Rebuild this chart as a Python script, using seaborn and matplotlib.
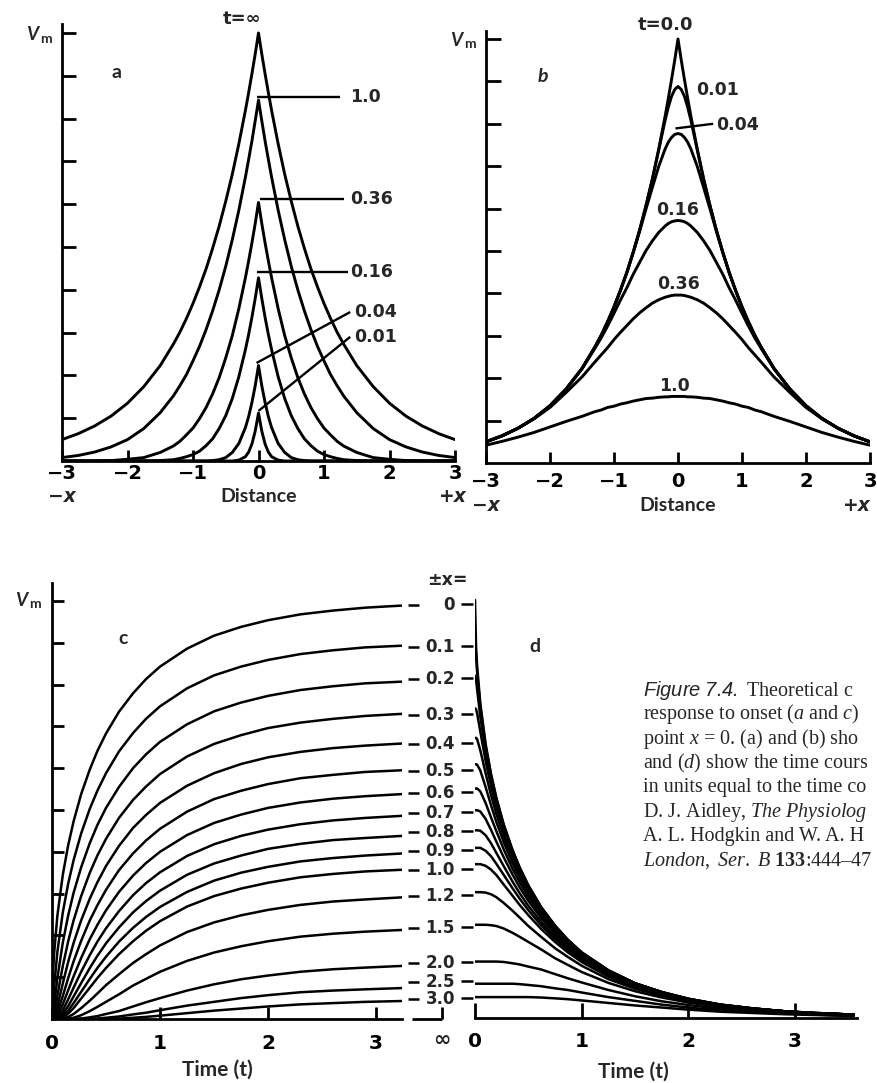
import matplotlib
matplotlib.use("Agg")
import matplotlib.pyplot as plt
import pandas as pd
import seaborn as sns

# ---------------- values ----------------
# (a) onset and (b) decay: V_m against distance. Only the x >= 0 half was read,
# the profiles are symmetric about x = 0 and get mirrored below.
dist_half = [0, 0.05, 0.1, 0.15, 0.2, 0.3, 0.4, 0.5, 0.6, 0.7, 0.8, 0.9, 1.0, 1.1, 1.2, 1.3,
             1.5, 1.75, 2.0, 2.25, 2.5, 2.75, 3.0]

onset_names = ["inf", "1.0", "0.36", "0.16", "0.04", "0.01"]
onset_inf = [10.0, 9.51, 9.05, 8.61, 8.19, 7.41, 6.70, 6.07, 5.49, 4.97, 4.49, 4.07, 3.68, 3.33, 3.01, 2.73,
             2.23, 1.74, 1.35, 1.05, 0.82, 0.64, 0.50]
onset_1_0 = [8.43, 7.95, 7.48, 7.05, 6.63, 5.86, 5.17, 4.55, 4.00, 3.51, 3.07, 2.68, 2.34, 2.02, 1.76, 1.52,
             1.13, 0.76, 0.50, 0.33, 0.21, 0.13, 0.08]
onset_0_36 = [6.04, 5.55, 5.10, 4.68, 4.28, 3.56, 2.93, 2.41, 1.95, 1.57, 1.25, 0.99, 0.77, 0.61, 0.46, 0.35,
              0.20, 0.08, 0.04, 0.01, 0.0, 0.0, 0.0]
onset_0_16 = [4.28, 3.80, 3.36, 2.96, 2.60, 1.97, 1.46, 1.06, 0.76, 0.52, 0.36, 0.23, 0.15, 0.10, 0.06, 0.03,
              0.01, 0.0, 0.0, 0.0, 0.0, 0.0, 0.0]
onset_0_04 = [2.23, 1.76, 1.37, 1.04, 0.78, 0.41, 0.20, 0.08, 0.03, 0.01, 0.0, 0.0, 0.0, 0.0, 0.0, 0.0,
              0.0, 0.0, 0.0, 0.0, 0.0, 0.0, 0.0]
onset_0_01 = [1.12, 0.70, 0.40, 0.21, 0.10, 0.02, 0.0, 0.0, 0.0, 0.0, 0.0, 0.0, 0.0, 0.0, 0.0, 0.0,
              0.0, 0.0, 0.0, 0.0, 0.0, 0.0, 0.0]

decay_names = ["0.0", "0.01", "0.04", "0.16", "0.36", "1.0"]
decay_0_0 = [10.0, 9.51, 9.05, 8.61, 8.19, 7.41, 6.70, 6.07, 5.49, 4.97, 4.49, 4.07, 3.68, 3.33, 3.01, 2.73,
             2.23, 1.74, 1.35, 1.05, 0.82, 0.64, 0.50]
decay_0_01 = [8.88, 8.81, 8.65, 8.40, 8.09, 7.39, 6.70, 6.07, 5.49, 4.97, 4.49, 4.07, 3.68, 3.33, 3.01, 2.73,
              2.23, 1.74, 1.35, 1.05, 0.82, 0.64, 0.50]
decay_0_04 = [7.77, 7.75, 7.68, 7.57, 7.41, 7.00, 6.50, 5.99, 5.46, 4.96, 4.49, 4.07, 3.68, 3.33, 3.01, 2.73,
              2.23, 1.74, 1.35, 1.05, 0.82, 0.64, 0.50]
decay_0_16 = [5.72, 5.71, 5.69, 5.65, 5.59, 5.44, 5.24, 5.01, 4.73, 4.45, 4.13, 3.84, 3.53, 3.23, 2.95, 2.70,
              2.22, 1.74, 1.35, 1.05, 0.82, 0.64, 0.50]
decay_0_36 = [3.96, 3.96, 3.95, 3.93, 3.91, 3.85, 3.77, 3.66, 3.54, 3.40, 3.24, 3.08, 2.91, 2.72, 2.55, 2.38,
              2.03, 1.66, 1.31, 1.04, 0.82, 0.64, 0.50]
decay_1_0 = [1.57, 1.57, 1.57, 1.56, 1.56, 1.55, 1.53, 1.52, 1.49, 1.46, 1.42, 1.39, 1.34, 1.31, 1.25, 1.21,
             1.10, 0.98, 0.85, 0.72, 0.61, 0.51, 0.42]

# (c) rise and (d) fall of V_m with time at distances +-x
pos_labels = ["0", "0.1", "0.2", "0.3", "0.4", "0.5", "0.6", "0.7", "0.8", "0.9", "1.0", "1.2", "1.5", "2.0", "2.5", "3.0"]
pos_label_v = [9.90, 8.90, 8.13, 7.27, 6.58, 5.93, 5.41, 4.93, 4.47, 4.02, 3.56, 2.94, 2.18, 1.34, 0.89, 0.48]

time_on = [0, 0.01, 0.02, 0.05, 0.1, 0.15, 0.2, 0.27, 0.35, 0.42, 0.5, 0.62, 0.75, 0.87, 1.0, 1.25, 1.5, 1.75,
           2.0, 2.3, 2.6, 2.9, 3.24]
rise_00 = [0, 1.12, 1.58, 2.48, 3.45, 4.16, 4.73, 5.38, 5.97, 6.41, 6.83, 7.35, 7.79, 8.13, 8.43, 8.86, 9.17, 9.38, 9.54, 9.68, 9.77, 9.84, 9.89]
rise_01 = [0, 0.40, 0.78, 1.61, 2.55, 3.24, 3.80, 4.44, 5.03, 5.46, 5.88, 6.40, 6.84, 7.18, 7.48, 7.91, 8.22, 8.43, 8.59, 8.73, 8.82, 8.89, 8.93]
rise_02 = [0, 0.10, 0.33, 0.98, 1.83, 2.48, 3.02, 3.63, 4.21, 4.64, 5.05, 5.55, 6.00, 6.33, 6.63, 7.05, 7.36, 7.57, 7.73, 7.87, 7.96, 8.03, 8.07]
rise_03 = [0, 0.02, 0.12, 0.56, 1.27, 1.86, 2.36, 2.94, 3.50, 3.91, 4.31, 4.81, 5.24, 5.56, 5.86, 6.28, 6.58, 6.79, 6.96, 7.09, 7.18, 7.25, 7.30]
rise_04 = [0, 0, 0.03, 0.30, 0.85, 1.37, 1.82, 2.36, 2.88, 3.27, 3.66, 4.14, 4.57, 4.88, 5.17, 5.58, 5.88, 6.10, 6.26, 6.39, 6.48, 6.54, 6.59]
rise_05 = [0, 0, 0.01, 0.15, 0.55, 0.98, 1.38, 1.87, 2.36, 2.72, 3.09, 3.56, 3.96, 4.27, 4.55, 4.96, 5.26, 5.46, 5.62, 5.76, 5.84, 5.91, 5.95]
rise_06 = [0, 0, 0, 0.07, 0.35, 0.69, 1.02, 1.46, 1.91, 2.25, 2.60, 3.04, 3.43, 3.73, 4.00, 4.40, 4.69, 4.89, 5.05, 5.18, 5.27, 5.33, 5.38]
rise_07 = [0, 0, 0, 0.03, 0.21, 0.47, 0.75, 1.13, 1.53, 1.85, 2.17, 2.58, 2.96, 3.25, 3.51, 3.90, 4.18, 4.38, 4.53, 4.66, 4.75, 4.81, 4.86]
rise_08 = [0, 0, 0, 0.01, 0.12, 0.31, 0.54, 0.86, 1.22, 1.51, 1.81, 2.19, 2.55, 2.82, 3.07, 3.45, 3.72, 3.91, 4.07, 4.19, 4.28, 4.33, 4.38]
rise_09 = [0, 0, 0, 0, 0.07, 0.20, 0.38, 0.65, 0.96, 1.22, 1.49, 1.85, 2.18, 2.44, 2.68, 3.04, 3.31, 3.50, 3.64, 3.77, 3.85, 3.91, 3.96]
rise_10 = [0, 0, 0, 0, 0.04, 0.13, 0.26, 0.49, 0.75, 0.98, 1.22, 1.55, 1.86, 2.11, 2.34, 2.69, 2.94, 3.12, 3.26, 3.39, 3.47, 3.53, 3.57]
rise_12 = [0, 0, 0, 0, 0.01, 0.05, 0.12, 0.26, 0.44, 0.61, 0.81, 1.07, 1.34, 1.55, 1.76, 2.08, 2.31, 2.48, 2.61, 2.73, 2.81, 2.86, 2.91]
rise_15 = [0, 0, 0, 0, 0, 0.01, 0.03, 0.09, 0.19, 0.29, 0.41, 0.59, 0.80, 0.96, 1.13, 1.39, 1.59, 1.74, 1.86, 1.97, 2.04, 2.09, 2.13]
rise_20 = [0, 0, 0, 0, 0, 0, 0, 0.01, 0.04, 0.07, 0.12, 0.19, 0.30, 0.40, 0.50, 0.68, 0.83, 0.95, 1.04, 1.13, 1.19, 1.23, 1.27]
rise_25 = [0, 0, 0, 0, 0, 0, 0, 0, 0, 0.01, 0.03, 0.06, 0.11, 0.15, 0.21, 0.32, 0.41, 0.50, 0.57, 0.64, 0.68, 0.71, 0.74]
rise_30 = [0, 0, 0, 0, 0, 0, 0, 0, 0, 0, 0, 0.01, 0.03, 0.05, 0.08, 0.14, 0.20, 0.25, 0.30, 0.35, 0.38, 0.41, 0.43]

time_off = [0, 0.01, 0.02, 0.05, 0.1, 0.15, 0.2, 0.27, 0.35, 0.42, 0.5, 0.62, 0.75, 0.87, 1.0, 1.25, 1.5, 1.75,
            2.0, 2.3, 2.6, 2.9, 3.2, 3.55]
fall_00 = [10.0, 8.88, 8.42, 7.52, 6.55, 5.84, 5.27, 4.62, 4.03, 3.59, 3.17, 2.65, 2.21, 1.87, 1.57, 1.14, 0.83, 0.62, 0.46, 0.32, 0.23, 0.16, 0.11, 0.08]
fall_01 = [9.05, 8.65, 8.27, 7.44, 6.50, 5.81, 5.25, 4.61, 4.02, 3.59, 3.17, 2.65, 2.21, 1.87, 1.57, 1.14, 0.83, 0.62, 0.46, 0.32, 0.23, 0.16, 0.12, 0.08]
fall_02 = [8.19, 8.09, 7.86, 7.21, 6.36, 5.71, 5.17, 4.56, 3.98, 3.55, 3.14, 2.64, 2.19, 1.86, 1.56, 1.14, 0.83, 0.62, 0.46, 0.32, 0.23, 0.16, 0.12, 0.08]
fall_03 = [7.41, 7.39, 7.29, 6.85, 6.14, 5.55, 5.05, 4.47, 3.91, 3.50, 3.10, 2.60, 2.17, 1.85, 1.55, 1.13, 0.83, 0.62, 0.45, 0.32, 0.23, 0.16, 0.11, 0.08]
fall_04 = [6.70, 6.70, 6.67, 6.40, 5.85, 5.33, 4.88, 4.34, 3.82, 3.43, 3.04, 2.56, 2.13, 1.82, 1.53, 1.12, 0.82, 0.60, 0.44, 0.31, 0.22, 0.16, 0.11, 0.08]
fall_05 = [6.07, 6.07, 6.06, 5.92, 5.52, 5.09, 4.69, 4.20, 3.71, 3.35, 2.98, 2.51, 2.11, 1.80, 1.52, 1.11, 0.81, 0.61, 0.45, 0.31, 0.23, 0.16, 0.12, 0.08]
fall_06 = [5.49, 5.49, 5.49, 5.42, 5.14, 4.80, 4.47, 4.03, 3.58, 3.24, 2.89, 2.45, 2.06, 1.76, 1.49, 1.09, 0.80, 0.60, 0.44, 0.31, 0.22, 0.16, 0.11, 0.08]
fall_07 = [4.97, 4.97, 4.97, 4.94, 4.76, 4.50, 4.22, 3.84, 3.44, 3.12, 2.80, 2.39, 2.01, 1.72, 1.46, 1.07, 0.79, 0.59, 0.44, 0.31, 0.22, 0.16, 0.11, 0.08]
fall_08 = [4.49, 4.49, 4.49, 4.48, 4.37, 4.18, 3.95, 3.63, 3.27, 2.98, 2.68, 2.30, 1.94, 1.67, 1.42, 1.04, 0.77, 0.58, 0.42, 0.30, 0.21, 0.16, 0.11, 0.08]
fall_09 = [4.07, 4.07, 4.07, 4.07, 4.00, 3.87, 3.69, 3.42, 3.11, 2.85, 2.58, 2.22, 1.89, 1.63, 1.39, 1.03, 0.76, 0.57, 0.43, 0.30, 0.22, 0.16, 0.11, 0.08]
fall_10 = [3.68, 3.68, 3.68, 3.68, 3.64, 3.55, 3.42, 3.19, 2.93, 2.70, 2.46, 2.13, 1.82, 1.57, 1.34, 0.99, 0.74, 0.56, 0.42, 0.29, 0.21, 0.15, 0.11, 0.08]
fall_12 = [3.01, 3.01, 3.01, 3.01, 3.00, 2.96, 2.89, 2.75, 2.57, 2.40, 2.20, 1.94, 1.67, 1.46, 1.25, 0.93, 0.70, 0.53, 0.40, 0.28, 0.20, 0.15, 0.10, 0.07]
fall_15 = [2.23, 2.23, 2.23, 2.23, 2.23, 2.22, 2.20, 2.14, 2.04, 1.94, 1.82, 1.64, 1.43, 1.27, 1.10, 0.84, 0.64, 0.49, 0.37, 0.26, 0.19, 0.14, 0.10, 0.07]
fall_20 = [1.35, 1.35, 1.35, 1.35, 1.35, 1.35, 1.35, 1.34, 1.31, 1.28, 1.23, 1.16, 1.05, 0.95, 0.85, 0.67, 0.52, 0.40, 0.31, 0.22, 0.16, 0.12, 0.08, 0.06]
fall_25 = [0.82, 0.82, 0.82, 0.82, 0.82, 0.82, 0.82, 0.82, 0.82, 0.81, 0.79, 0.76, 0.71, 0.67, 0.61, 0.50, 0.41, 0.32, 0.25, 0.18, 0.14, 0.11, 0.08, 0.05]
fall_30 = [0.50, 0.50, 0.50, 0.50, 0.50, 0.50, 0.50, 0.50, 0.50, 0.50, 0.50, 0.49, 0.47, 0.45, 0.42, 0.36, 0.30, 0.25, 0.20, 0.15, 0.12, 0.09, 0.07, 0.05]

# caption as far as the scan shows it (cut by the right edge)
caption_lines = [
    r"$\mathsf{Figure\ 7.4.}$ Theoretical c",
    r"response to onset ($a$ and $c$)",
    r"point $x$ = 0. (a) and (b) sho",
    r"and ($d$) show the time cours",
    r"in units equal to the time co",
    r"D. J. Aidley, $\mathit{The}$ $\mathit{Physiolog}$",
    r"A. L. Hodgkin and W. A. H",
    r"$\mathit{London,}$ $\mathit{Ser.}$ $\mathit{B}$ $\mathbf{133}$:444–47",
]

# ---------------- style ----------------
sns.set_theme(style="ticks")
plt.rcParams["font.family"] = ["DejaVu Sans"]
plt.rcParams.update({
    "mathtext.fontset": "custom",
    "mathtext.rm": "Liberation Serif",
    "mathtext.it": "Liberation Serif:italic",
    "mathtext.bf": "Liberation Serif:bold",
    "mathtext.sf": "Liberation Sans:italic",
})
WORDS = ["Lato", "DejaVu Sans"]
NUMS = ["DejaVu Sans"]
SERIF = ["Liberation Serif", "DejaVu Serif"]

W, H = 877, 1083
fig = plt.figure(figsize=(W / 100, H / 100), dpi=100)
fig.patch.set_facecolor("white")


def axes_px(left, right, base, top):
    return fig.add_axes([left / W, 1 - base / H, (right - left) / W, (base - top) / H])


def text_px(x, y, s, **kw):
    kw.setdefault("ha", "center")
    kw.setdefault("va", "center")
    fig.text(x / W, 1 - y / H, s, **kw)


def mirror(vals):
    return list(vals[::-1]) + list(vals[1:])


def long_frame(xvals, series, names):
    parts = [pd.DataFrame({"x": xvals, "v": vals, "curve": name}) for name, vals in zip(names, series)]
    return pd.concat(parts, ignore_index=True)


def frame_axes(ax, xlim, ylim, xticks, xlabels, ylen, xlen, pad, left=True, tick_fs=14.5):
    ax.set_xlim(*xlim)
    ax.set_ylim(*ylim)
    ax.set_xlabel("")
    ax.set_ylabel("")
    ax.set_facecolor("none")
    sns.despine(ax=ax, left=not left)
    for side in ("left", "bottom"):
        ax.spines[side].set_linewidth(2.0)
        ax.spines[side].set_color("black")
    ax.set_xticks(xticks)
    ax.set_xticklabels(xlabels, fontsize=tick_fs, fontweight="bold", family=NUMS)
    ax.tick_params(axis="x", direction="in", length=xlen, width=2, pad=pad, colors="black")
    if left:
        ax.set_yticks(range(1, 11))
        ax.tick_params(axis="y", direction="in", length=ylen, width=2, labelleft=False, colors="black")
    else:
        ax.set_yticks([])


def curves(ax, df, lw):
    sns.lineplot(data=df, x="x", y="v", units="curve", estimator=None, color="black",
                 linewidth=lw, legend=False, ax=ax)


line_kw = dict(color="black", solid_capstyle="butt", clip_on=False)
num_kw = dict(fontweight="bold", family=NUMS)
dist_full = [-d for d in dist_half[::-1]] + dist_half[1:]
dist_ticks = [-3, -2, -1, 0, 1, 2, 3]
dist_ticklabels = ["−3", "−2", "−1", "0", "1", "2", "3"]

# ---------------- (a) onset along the cable ----------------
ax_a = axes_px(62, 455, 461, 24.4)
onset = [onset_inf, onset_1_0, onset_0_36, onset_0_16, onset_0_04, onset_0_01]
curves(ax_a, long_frame(dist_full, [mirror(s) for s in onset], onset_names), 2.1)
frame_axes(ax_a, (-3, 3), (0, 10.2), dist_ticks, dist_ticklabels, 10, 8, 2, tick_fs=14)

for x0, y0, x1, y1, lab, tx in [(-0.03, 8.50, 1.24, 8.50, "1.0", 1.40),
                                (0.02, 6.12, 1.30, 6.12, "0.36", 1.40),
                                (-0.03, 4.42, 1.37, 4.42, "0.16", 1.40),
                                (-0.03, 2.29, 1.40, 3.48, "0.04", 1.46),
                                (0.0, 1.17, 1.40, 2.90, "0.01", 1.46)]:
    ax_a.plot([x0, x1], [y0, y1], lw=1.7, **line_kw)
    ax_a.text(tx, y1, lab, ha="left", va="center", fontsize=12.5, **num_kw)
ax_a.text(-3, -0.82, "−x", ha="center", va="center", fontsize=13.5, style="italic", clip_on=False, **num_kw)
ax_a.text(0, -0.82, "Distance", ha="center", va="center", fontsize=14, fontweight="bold", family=WORDS, clip_on=False)
ax_a.text(2.95, -0.82, "+x", ha="center", va="center", fontsize=13.5, style="italic", clip_on=False, **num_kw)

# ---------------- (b) decay along the cable ----------------
ax_b = axes_px(486, 870, 463, 30.5)
decay = [decay_0_0, decay_0_01, decay_0_04, decay_0_16, decay_0_36, decay_1_0]
curves(ax_b, long_frame(dist_full, [mirror(s) for s in decay], decay_names), 2.1)
frame_axes(ax_b, (-3, 3), (0, 10.2), dist_ticks, dist_ticklabels, 10.5, 8, 6.5, tick_fs=14)

ax_b.text(0.29, 8.80, "0.01", ha="left", va="center", fontsize=12.5, **num_kw)
ax_b.plot([-0.04, 0.55], [7.89, 8.0], lw=1.7, **line_kw)
ax_b.text(0.60, 7.97, "0.04", ha="left", va="center", fontsize=12.5, **num_kw)
ax_b.text(0.0, 5.97, "0.16", ha="center", va="center", fontsize=12.5, **num_kw)
ax_b.text(0.0, 4.22, "0.36", ha="center", va="center", fontsize=12.5, **num_kw)
ax_b.text(-0.05, 1.82, "1.0", ha="center", va="center", fontsize=12.5, **num_kw)
ax_b.text(-3, -1.0, "−x", ha="center", va="center", fontsize=13.5, style="italic", clip_on=False, **num_kw)
ax_b.text(0, -1.0, "Distance", ha="center", va="center", fontsize=14, fontweight="bold", family=WORDS, clip_on=False)
ax_b.text(3.0, -1.0, "+x", ha="right", va="center", fontsize=13.5, style="italic", clip_on=False, **num_kw)

# ---------------- (c) rise with time ----------------
ax_c = axes_px(52, 402, 1019, 583)
rise = [rise_00, rise_01, rise_02, rise_03, rise_04, rise_05, rise_06, rise_07,
        rise_08, rise_09, rise_10, rise_12, rise_15, rise_20, rise_25, rise_30]
curves(ax_c, long_frame(time_on, rise, pos_labels), 1.8)
frame_axes(ax_c, (0, 3.24), (0, 10.43), [0, 1, 2, 3], ["0", "1", "2", "3"], 8.5, 8.5, 11)
ax_c.plot([3.33, 3.61], [0, 0], lw=2.0, **line_kw)
ax_c.plot([3.61, 3.61], [0, 0.28], lw=2.0, **line_kw)
ax_c.text(3.61, -0.50, "∞", ha="center", va="center", fontsize=15, clip_on=False, **num_kw)
ax_c.text(1.53, -1.22, "Time (t)", ha="center", va="center", fontsize=15, fontweight="bold", family=WORDS, clip_on=False)

# ---------------- (d) fall with time ----------------
ax_d = axes_px(475, 857, 1018, 582)
fall = [fall_00, fall_01, fall_02, fall_03, fall_04, fall_05, fall_06, fall_07,
        fall_08, fall_09, fall_10, fall_12, fall_15, fall_20, fall_25, fall_30]
curves(ax_d, long_frame(time_off, fall, pos_labels), 1.8)
frame_axes(ax_d, (0, 3.58), (0, 10.43), [0, 1, 2, 3], ["0", "1", "2", "3"], 0, 10.5, 10, left=False)
ax_d.text(1.48, -1.29, "Time (t)", ha="center", va="center", fontsize=15, fontweight="bold", family=WORDS, clip_on=False)

# shared column of distance labels between (c) and (d)
for lab, v in zip(pos_labels, pos_label_v):
    ax_c.plot([3.30, 3.40], [v, v], lw=1.8, **line_kw)
    ax_c.text(3.73, v, lab, ha="right", va="center", fontsize=12, clip_on=False, **num_kw)
    ax_d.plot([-0.13, -0.02], [v, v], lw=1.8, **line_kw)
text_px(447, 580, "±x=", fontsize=12.5, **num_kw)

# ---------------- panel letters, V_m and time labels ----------------
for (vx, vy) in [(32, 35), (456, 40), (21, 600)]:
    text_px(vx, vy, "V", fontsize=13.5, fontweight="bold", style="italic", family=WORDS)
    text_px(vx + 14, vy + 4, "m", fontsize=10, fontweight="bold", family=WORDS)
text_px(117, 73, "a", fontsize=14, fontweight="bold", family=WORDS)
text_px(543, 77, "b", fontsize=14, fontweight="bold", style="italic", family=WORDS)
text_px(123, 638, "c", fontsize=14, fontweight="bold", family=WORDS)
text_px(535, 646, "d", fontsize=14, fontweight="bold", family=WORDS)
text_px(242, 19, "t=∞", fontsize=13, **num_kw)
text_px(666, 25, "t=0.0", fontsize=13, **num_kw)

# ---------------- caption ----------------
for i, line in enumerate(caption_lines):
    text_px(643, 690 + i * 24.4, line, ha="left", fontsize=14.5, family=SERIF)

fig.savefig("out.png", dpi=100, facecolor="white")
